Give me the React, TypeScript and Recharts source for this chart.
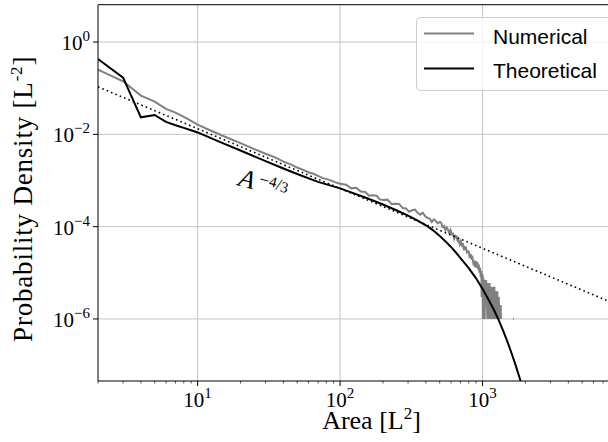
import React from "react"
import { LineChart, Line, XAxis, YAxis, CartesianGrid, ReferenceLine, ReferenceDot, Legend } from "recharts"

// Numerical histogram (area bins -> probability density); null = empty bins
const numArea = [
  2, 3, 4, 5, 6, 7, 8, 9, 10, 12, 15, 20, 25, 30, 35, 40, 45, 50, 55, 60, 65, 70, 75, 85, 92, 100,
  110, 120, 130, 140, 150, 160, 170, 180, 190, 200,
  215, 230, 245, 260, 275, 290, 305, 320, 335, 350, 365, 380, 395, 410, 425, 440, 455, 470, 485, 500,
  512, 524, 536, 548, 560, 572, 584, 596, 608, 620, 632, 644, 656, 668, 680, 692, 704, 716, 728, 740,
  752, 764, 776, 788, 800, 812, 824, 836, 848, 860, 872, 884, 896,
  900, 910, 920, 930, 940, 950, 960, 970, 980, 985, 990, 1000, 1005, 1010, 1020, 1030, 1035, 1040,
  1050, 1060, 1070, 1080, 1090, 1100, 1110, 1115, 1120, 1130, 1140, 1150, 1160, 1170, 1180, 1190,
  1200, 1210, 1215, 1220, 1230, 1240, 1250, 1260, 1270, 1280, 1290, 1300, 1310, 1320, 1330, 1340, 1345,
  1500, 1640, 1660,
]
const numDensity = [
  0.251, 0.141, 0.0692, 0.0513, 0.0355, 0.0295, 0.024, 0.0195, 0.0162, 0.0126, 0.00933, 0.00646,
  0.00479, 0.0038, 0.00316, 0.00257, 0.00224, 0.00191, 0.0017, 0.00151, 0.0014, 0.00126, 0.00114,
  0.00102, 0.00092, 0.000851,
  8.13e-4, 6.76e-4, 6.92e-4, 5.75e-4, 5.62e-4, 4.68e-4, 4.79e-4, 4.68e-4, 3.89e-4, 3.8e-4,
  3.85e-4, 3.08e-4, 3.12e-4, 3.1e-4, 2.53e-4, 2.47e-4, 2.11e-4, 2.26e-4, 2.34e-4, 2.0e-4, 1.82e-4,
  2.0e-4, 1.7e-4, 1.55e-4, 1.5e-4, 1.26e-4, 1.44e-4, 1.32e-4, 1.18e-4, 1.26e-4,
  1.22e-4, 9.82e-5, 1.04e-4, 8.39e-5, 9.55e-5, 8.63e-5, 7.28e-5, 8.47e-5, 6.81e-5, 7.01e-5, 5.48e-5,
  6.35e-5, 6.12e-5, 4.91e-5, 5.06e-5, 4.14e-5, 4.8e-5, 3.94e-5, 4.15e-5, 3.1e-5, 3.6e-5, 3.54e-5,
  2.77e-5, 2.92e-5, 2.88e-5, 2.09e-5, 2.56e-5, 2.09e-5, 2.19e-5, 1.66e-5, 1.86e-5, 1.32e-5, 1.66e-5,
  18e-6, 13e-6, 17e-6, 12e-6, 15e-6, 10e-6, 13e-6, 8e-6, 11e-6, 3e-6, 9e-6, 9e-6, 1e-6, 8e-6, 5e-6,
  7e-6, 1e-6, 6e-6, 2e-6, 7e-6, 3e-6, 1e-6, 6e-6, 4e-6, 5e-6, 1e-6, 6e-6, 2e-6, 5e-6, 1e-6, 4e-6,
  2e-6, 5e-6, 1e-6, 3e-6, 5e-6, 1e-6, 2e-6, 4e-6, 1e-6, 3e-6, 1e-6, 4e-6, 1e-6, 2e-6, 3e-6, 1e-6,
  2e-6, 1e-6, 2e-6, 1e-6,
  null, 1e-6, 1e-6,
]

// Theoretical curve
const theoArea = [
  2, 3, 4, 5, 6, 7, 8, 9, 10, 15, 20, 30, 40, 50, 70, 100, 150, 200, 250, 300, 350, 400, 450, 500,
  550, 600, 650, 700, 800, 900, 1000, 1100, 1200, 1300, 1400, 1500, 1600, 1700, 1800, 1900, 2000,
]
const theoDensity = [
  0.427, 0.17, 0.0234, 0.0263, 0.0186, 0.0158, 0.0138, 0.0123, 0.011, 0.00646, 0.00447, 0.00263,
  0.00182, 0.00138, 9.33e-4, 6.76e-4, 4.27e-4, 3.02e-4, 2.24e-4, 1.74e-4, 1.35e-4, 1.07e-4, 8.32e-5,
  6.31e-5, 4.79e-5, 3.63e-5, 2.75e-5, 2.09e-5, 1.26e-5, 7.59e-6, 4.47e-6, 2.63e-6, 1.58e-6, 9.33e-7,
  5.37e-7, 3.09e-7, 1.78e-7, 1.02e-7, 5.89e-8, 3.39e-8, 1.95e-8,
]

// A^(-4/3) guide line
const refArea = [2, 13800]
const refDensity = [0.107, 1.13e-6]

const xMajor = [10, 100, 1000, 10000]
const xLabeled = [10, 100, 1000]
const xLabelExp = ["1", "2", "3"]
const xMinor = [2, 3, 4, 5, 6, 7, 8, 9, 20, 30, 40, 50, 60, 70, 80, 90, 200, 300, 400, 500, 600, 700, 800, 900, 2000, 3000, 4000, 5000, 6000, 7000, 8000, 9000]
const yMajor = [1, 1e-2, 1e-4, 1e-6]
const yMajorExp = ["0", "\u22122", "\u22124", "\u22126"]

const X_DOMAIN = [2, 13800]
const Y_DOMAIN = [4.52e-8, 6.45]
const ANNOT_AREA = 19
const ANNOT_DENSITY = 7.9e-4

const SERIF = "'Liberation Serif', 'DejaVu Serif', serif"
const SANS = "'Liberation Sans', 'DejaVu Sans', sans-serif"

const zip = (xs: number[], ys: (number | null)[]) =>
  xs.slice(0, Math.min(xs.length, ys.length)).map((x, i) => ({ x, y: ys[i] }))

const numData = zip(numArea, numDensity)
const theoData = zip(theoArea, theoDensity)
const refData = zip(refArea, refDensity)

const XTick = (props: any) => {
  const { x, y, payload } = props
  const major = xMajor.includes(payload.value)
  const idx = xLabeled.indexOf(payload.value)
  return (
    <g>
      <line x1={x} x2={x} y1={y} y2={y + (major ? 5 : 2.5)} stroke="#000" strokeWidth={major ? 1 : 0.7} />
      {idx >= 0 && (
        <text x={x} y={y + 26} textAnchor="middle" fontFamily={SERIF} fontSize={21} fill="#000">
          10<tspan dy={-9} fontSize={15}>{xLabelExp[idx]}</tspan>
        </text>
      )}
    </g>
  )
}

const YTick = (props: any) => {
  const { x, y, payload } = props
  const idx = yMajor.indexOf(payload.value)
  return (
    <g>
      <line x1={x - 5} x2={x} y1={y} y2={y} stroke="#000" strokeWidth={1} />
      <text x={x - 8} y={y + 8} textAnchor="end" fontFamily={SERIF} fontSize={21} fill="#000">
        10<tspan dy={-9} fontSize={15}>{yMajorExp[idx]}</tspan>
      </text>
    </g>
  )
}

const XLabel = (props: any) => {
  const { x, y, width } = props.viewBox
  return (
    <text x={x + width / 2} y={y + 48} textAnchor="middle" fontFamily={SERIF} fontSize={26} fill="#000">
      Area [L<tspan dy={-10} fontSize={17}>2</tspan>
      <tspan dy={10}>]</tspan>
    </text>
  )
}

const YLabel = (props: any) => {
  const { x, y, height } = props.viewBox
  const cx = x + 24
  const cy = y + height / 2 + 6
  return (
    <text
      x={cx}
      y={cy}
      transform={`rotate(-90 ${cx} ${cy})`}
      textAnchor="middle"
      fontFamily={SERIF}
      fontSize={27}
      letterSpacing={0.8}
      fill="#000"
    >
      Probability Density [L<tspan dy={-10} fontSize={17}>-2</tspan>
      <tspan dy={10}>]</tspan>
    </text>
  )
}

const Annotation = (props: any) => {
  const { cx, cy } = props
  return (
    <text x={cx} y={cy} transform={`rotate(15 ${cx} ${cy})`} fontFamily={SERIF} fill="#000">
      <tspan fontStyle="italic" fontSize={26}>A</tspan>
      <tspan fontSize={18} dx={4} dy={-6}>{"\u2212"}</tspan>
      <tspan fontSize={15} dy={-1.5}>4</tspan>
      <tspan fontSize={17} dy={1.5}>/</tspan>
      <tspan fontSize={15} dy={1}>3</tspan>
    </text>
  )
}

const LegendBox = ({ payload }: any) => (
  <svg width={226} height={76} style={{ display: "block" }}>
    <rect x={0.5} y={0.5} width={221} height={73} rx={4} fill="rgba(255,255,255,0.8)" stroke="#cccccc" />
    {(payload || []).map((p: any, i: number) => (
      <g key={p.value}>
        <line x1={8} x2={58} y1={16.6 + i * 35} y2={16.6 + i * 35} stroke={p.color} strokeWidth={2} />
        <text x={77} y={26.6 + i * 34} fontFamily={SANS} fontSize={21} fill="#000">
          {p.value}
        </text>
      </g>
    ))}
  </svg>
)

export default function App() {
  return (
    <div style={{ position: "fixed", left: 0, top: 0, width: 608, height: 442, overflow: "hidden", background: "#fff" }}>
      <LineChart width={660} height={442} margin={{ top: 4.7, right: 15, bottom: 0, left: 8 }}>
        <CartesianGrid horizontalValues={yMajor} verticalValues={xMajor} stroke="#c4c4c4" strokeWidth={1} strokeDasharray="" />
        <XAxis
          dataKey="x"
          type="number"
          scale="log"
          domain={X_DOMAIN}
          allowDataOverflow
          ticks={[...xMinor, ...xMajor].sort((a, b) => a - b)}
          interval={0}
          tick={<XTick />}
          tickLine={false}
          tickSize={0}
          tickMargin={0}
          height={61}
          axisLine={{ stroke: "#000", strokeWidth: 1 }}
          label={<XLabel />}
        />
        <YAxis
          dataKey="y"
          type="number"
          scale="log"
          domain={Y_DOMAIN}
          allowDataOverflow
          ticks={yMajor}
          interval={0}
          tick={<YTick />}
          tickLine={false}
          tickSize={0}
          tickMargin={0}
          width={90}
          axisLine={{ stroke: "#000", strokeWidth: 1 }}
          label={<YLabel />}
        />
        <ReferenceLine y={Y_DOMAIN[1]} stroke="#000" strokeWidth={1} ifOverflow="visible" />
        <Line
          data={numData}
          dataKey="y"
          name="Numerical"
          stroke="#808080"
          strokeWidth={2}
          dot={false}
          connectNulls={false}
          isAnimationActive={false}
        />
        <Line
          data={theoData}
          dataKey="y"
          name="Theoretical"
          stroke="#000000"
          strokeWidth={2}
          dot={false}
          isAnimationActive={false}
        />
        <Line
          data={refData}
          dataKey="y"
          name="guide"
          stroke="#000000"
          strokeWidth={1.6}
          strokeDasharray="1.6 3.1"
          dot={false}
          legendType="none"
          isAnimationActive={false}
        />
        <ReferenceDot x={ANNOT_AREA} y={ANNOT_DENSITY} r={0} shape={<Annotation />} />
        <Legend
          layout="vertical"
          align="center"
          verticalAlign="middle"
          wrapperStyle={{ left: 415.7, top: 16.7, width: 226, height: 76 }}
          content={<LegendBox />}
        />
      </LineChart>
    </div>
  )
}
